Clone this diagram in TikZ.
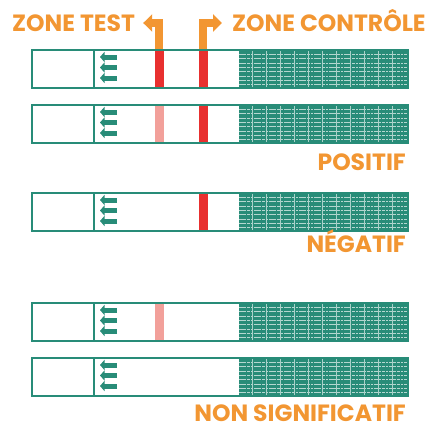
\documentclass[tikz,border=0pt]{standalone}
\usepackage{fontspec}
\setmainfont{Poppins}
\usetikzlibrary{arrows.meta, positioning, calc}

\definecolor{tealstrip}{RGB}{40,140,120}
\definecolor{orangelabel}{RGB}{242,150,50}
\definecolor{redline}{RGB}{232,48,47}
\definecolor{pinkline}{RGB}{242,160,154}

\begin{document}
\begin{tikzpicture}[x=1pt, y=-1pt, >=Stealth, line join=miter]
	\useasboundingbox (0,0) rectangle (430,428);
	
	%======================
	% PARAMETERS (edit here)
	%======================
	\def\xl{32}       % left end of a strip
	\def\xr{408}      % right end of a strip
	\def\h{38}        % strip height
	\def\xdiv{94}     % sample pad border
	\def\xhatch{239}  % start of the absorbent pad
	\def\xtest{159}   % test line
	\def\xctrl{203}   % control line
	
	%======================
	% STYLES
	%======================
	\tikzset{
		strip/.style={draw=tealstrip, line width=1.5pt},
		pad/.style={fill=tealstrip},
		padline/.style={white!65!tealstrip, line width=0.6pt, dash pattern=on 7pt off 1pt on 3pt off 1pt on 2pt off 1pt},
		flow/.style={-{Triangle[length=4.5pt,width=10pt]}, draw=tealstrip, fill=tealstrip, line width=5pt},
		zonetext/.style={text=orangelabel, font=\bfseries\fontsize{23.5}{23.5}\selectfont, inner sep=0pt},
		pointer/.style={draw=orangelabel, line width=8.5pt, -{Triangle[length=9pt,width=17pt]}}
	}
	
	%======================
	% STRIPS: top / test line / control line
	%======================
	\foreach \ytop/\tc/\cc in {50/redline/redline, 105/pinkline/redline, 193/none/redline, 303/pinkline/none, 358/none/none}{
		% absorbent pad
		\fill[pad] (\xhatch,\ytop) rectangle (\xr,{\ytop+\h});
		\foreach \k in {1,...,8}
		\draw[padline] (\xhatch,{\ytop+\k*4.3}) -- (\xr,{\ytop+\k*4.3});
		\foreach \xx in {252,266,...,400}
		\draw[white!60!tealstrip, line width=0.5pt] (\xx,\ytop) -- (\xx,{\ytop+\h});
		
		% test and control lines
		\fill[fill=\tc] ({\xtest-4.5},{\ytop-1}) rectangle ({\xtest+4.5},{\ytop+\h+1});
		\fill[fill=\cc] ({\xctrl-4.5},{\ytop-1}) rectangle ({\xctrl+4.5},{\ytop+\h+1});
		
		% outline and sample pad
		\draw[strip] (\xl,\ytop) rectangle (\xr,{\ytop+\h});
		\draw[strip] (\xdiv,\ytop) -- (\xdiv,{\ytop+\h});
		
		% migration arrows
		\foreach \dy in {7,17.5,28}
		\draw[flow] (117,{\ytop+\dy}) -- (100,{\ytop+\dy});
	}
	
	%======================
	% LABELS
	%======================
	\node[zonetext, anchor=base west] (zonetest) at (12,32) {ZONE TEST};
	\node[zonetext, anchor=base west] (zonectrl) at (232,32) {ZONE CONTRÔLE};
	
	\node[zonetext, anchor=base east] (positif) at (406,170) {POSITIF};
	\node[zonetext, anchor=base east] (negatif) at (406,252) {NÉGATIF};
	\node[zonetext, anchor=base east] (nonsig) at (406,421) {NON SIGNIFICATIF};
	
	% pointers from the lines to the zone names
	\coordinate (testfoot) at (\xtest,49);
	\coordinate (ctrlfoot) at (\xctrl,49);
	\draw[pointer] (testfoot) |- ([shift={(8pt,9pt)}]zonetest.base east);
	\draw[pointer] (ctrlfoot) |- ([shift={(-10pt,9pt)}]zonectrl.base west);
	
\end{tikzpicture}
\end{document}
